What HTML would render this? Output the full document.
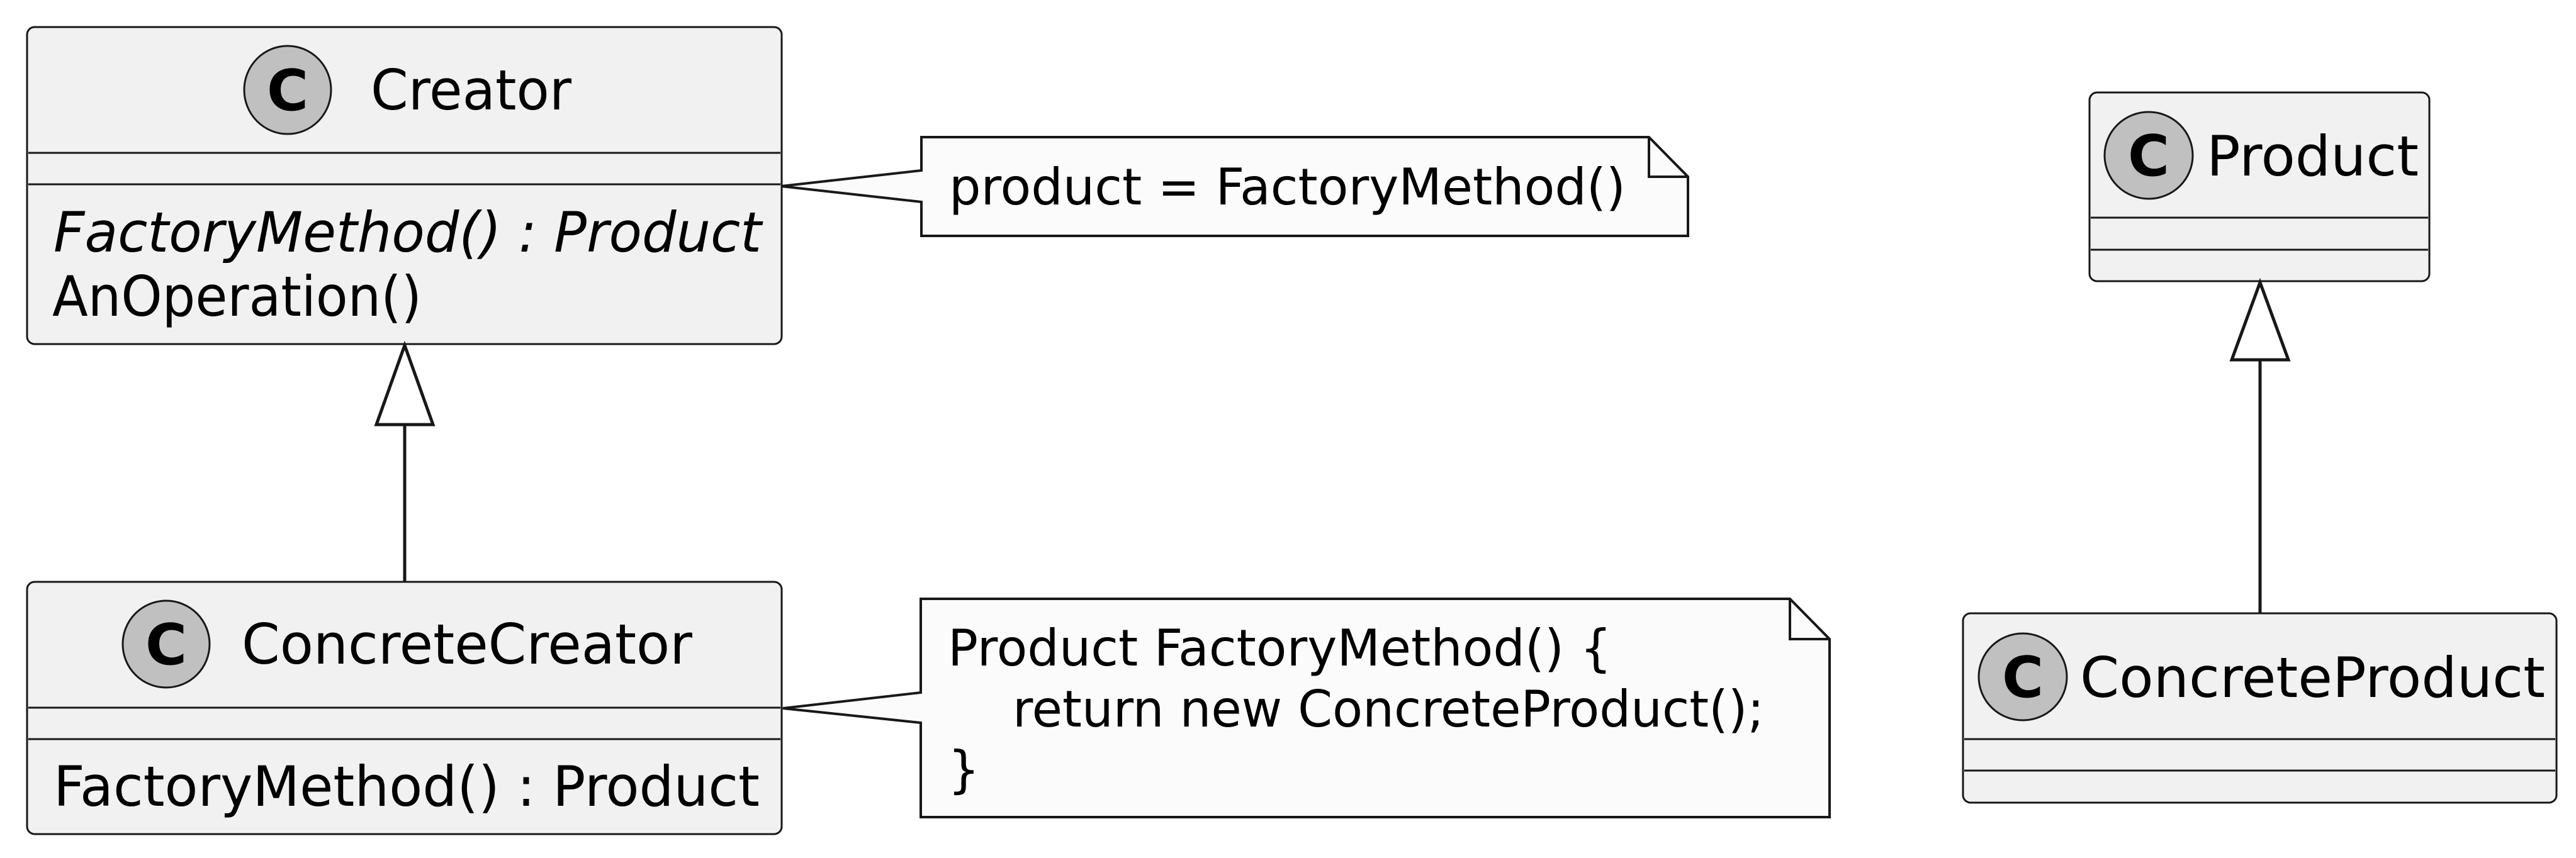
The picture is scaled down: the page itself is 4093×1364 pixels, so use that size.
<!DOCTYPE html>
<html><head><meta charset="utf-8"><style>html,body{margin:0;padding:0;background:#fff}svg{display:block}</style></head>
<body>
<svg width="4093" height="1364" viewBox="0 0 4093 1364" xmlns="http://www.w3.org/2000/svg" font-family="'DejaVu Sans','Liberation Sans',sans-serif">
<g stroke="#181818" stroke-width="3">
<!-- Creator -->
<rect x="43" y="43" width="1199" height="504" rx="12" fill="#F1F1F1"/>
<line x1="45" y1="243" x2="1240" y2="243"/>
<line x1="45" y1="293" x2="1240" y2="293"/>
<ellipse cx="457" cy="143" rx="69" ry="70" fill="#C0C0C0"/>
<!-- ConcreteCreator -->
<rect x="43" y="925" width="1199" height="401" rx="12" fill="#F1F1F1"/>
<line x1="45" y1="1125" x2="1240" y2="1125"/>
<line x1="45" y1="1175" x2="1240" y2="1175"/>
<ellipse cx="264" cy="1024" rx="69" ry="69" fill="#C0C0C0"/>
<!-- Product -->
<rect x="3320" y="147" width="540" height="300" rx="12" fill="#F1F1F1"/>
<line x1="3322" y1="346" x2="3858" y2="346"/>
<line x1="3322" y1="397" x2="3858" y2="397"/>
<ellipse cx="3414" cy="247" rx="70" ry="69" fill="#C0C0C0"/>
<!-- ConcreteProduct -->
<rect x="3119" y="975" width="943" height="301" rx="12" fill="#F1F1F1"/>
<line x1="3121" y1="1175" x2="4060" y2="1175"/>
<line x1="3121" y1="1225" x2="4060" y2="1225"/>
<ellipse cx="3214" cy="1076" rx="70" ry="69" fill="#C0C0C0"/>
</g>
<g stroke="#181818" stroke-width="5">
<!-- generalizations -->
<line x1="643" y1="675" x2="643" y2="925"/>
<polygon points="643,549 598,675 688,675" fill="none"/>
<line x1="3591" y1="572" x2="3591" y2="975"/>
<polygon points="3591,449 3546,572 3636,572" fill="none"/>
</g>
<g stroke="#181818" stroke-width="4">
<!-- Note 1 -->
<path d="M1464,218 L2620,218 L2682,281 L2682,375 L1464,375 L1464,321 L1241,296 L1464,271 Z" fill="#FBFBFB"/>
<path d="M2620,218 L2620,281 L2682,281" fill="none"/>
<!-- Note 2 -->
<path d="M1463,952 L2844,952 L2907,1016 L2907,1299 L1463,1299 L1463,1149 L1244,1126 L1463,1101 Z" fill="#FBFBFB"/>
<path d="M2844,952 L2844,1016 L2907,1016" fill="none"/>
</g>
<g fill="#000" font-weight="bold" font-size="90" text-anchor="middle">
<text x="457" y="175">C</text>
<text x="264" y="1056">C</text>
<text x="3414" y="279">C</text>
<text x="3214" y="1108">C</text>
</g>
<g fill="#000" font-size="88">
<text x="589" y="174" textLength="319" lengthAdjust="spacingAndGlyphs">Creator</text>
<text x="85" y="400" font-style="italic" textLength="1125" lengthAdjust="spacingAndGlyphs">FactoryMethod() : Product</text>
<text x="83" y="502" textLength="587" lengthAdjust="spacingAndGlyphs">AnOperation()</text>
<text x="384" y="1055" textLength="716" lengthAdjust="spacingAndGlyphs">ConcreteCreator</text>
<text x="85" y="1281" textLength="1122" lengthAdjust="spacingAndGlyphs">FactoryMethod() : Product</text>
<text x="3506" y="279" textLength="337" lengthAdjust="spacingAndGlyphs">Product</text>
<text x="3305" y="1108" textLength="739" lengthAdjust="spacingAndGlyphs">ConcreteProduct</text>
</g>
<g fill="#000" font-size="80">
<text x="1508" y="325" textLength="1075" lengthAdjust="spacingAndGlyphs">product = FactoryMethod()</text>
<text x="1506" y="1058" textLength="1055" lengthAdjust="spacingAndGlyphs">Product FactoryMethod() {</text>
<text x="1609" y="1155" textLength="1194" lengthAdjust="spacingAndGlyphs">return new ConcreteProduct();</text>
<text x="1506" y="1251">}</text>
</g>
</svg>
</body></html>
